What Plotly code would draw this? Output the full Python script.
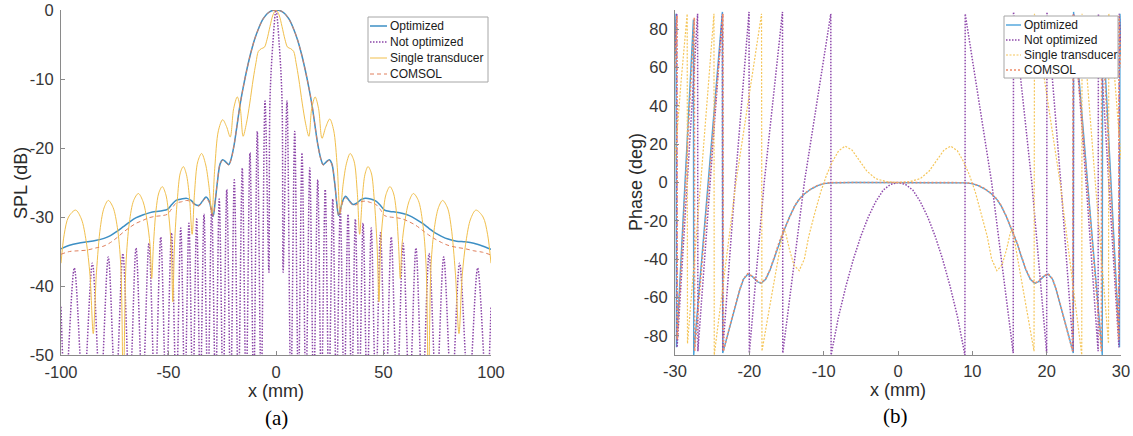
import plotly.graph_objects as go

# ---------------- (a) SPL profile along x ----------------
spl_x = [-100, -96, -92, -88, -84, -80, -77, -74, -71, -68,
         -65, -62, -59, -56, -53, -50.5, -48.5, -46.5, -44, -41.5,
         -39.5, -37.5, -35.8, -34.2, -32.6, -31.2, -30.1, -29.2, -28.3, -27.2,
         -26.0, -24.8, -23.4, -22.0, -20.8, -19.5, -18.2, -16.8, -15.3, -13.6,
         -11.8, -10.0, -8.0, -6.0, -4.0, -2.0,
         0, 2, 4, 6, 8, 10, 11.8, 13.6, 15.3, 16.8,
         18.2, 19.5, 20.8, 22.0, 23.4, 24.8, 26.0, 27.2, 28.2, 29.1,
         30.0, 31.1, 32.4, 34.0, 35.8, 37.5, 39.5, 41.5, 44.0, 46.5,
         48.5, 50.5, 53, 56, 59, 62, 65, 68, 71, 74,
         77, 80, 84, 88, 92, 96, 100]

spl_optimized = [-34.6, -34.1, -33.8, -33.6, -33.4, -33.1, -32.7, -32.1, -31.4, -30.7,
                 -30.1, -29.7, -29.4, -29.2, -29.1, -28.9, -28.2, -27.6, -27.4, -27.3,
                 -27.6, -28.2, -28.3, -27.7, -27.1, -27.6, -28.9, -29.9, -27.8, -24.8,
                 -22.3, -21.7, -22.0, -22.4, -21.5, -19.6, -16.9, -13.9, -11.3, -8.7,
                 -6.3, -4.3, -2.6, -1.3, -0.5, -0.1,
                 0, -0.1, -0.5, -1.3, -2.6, -4.3, -6.3, -8.7, -11.3, -13.9,
                 -16.9, -19.6, -21.5, -22.4, -22.0, -21.7, -22.3, -24.8, -27.8, -29.8,
                 -28.9, -27.6, -27.0, -27.6, -28.2, -28.0, -27.5, -27.3, -27.4, -27.7,
                 -28.3, -29.0, -29.2, -29.3, -29.5, -29.8, -30.3, -30.9, -31.6, -32.3,
                 -32.8, -33.2, -33.5, -33.6, -33.8, -34.2, -34.7]

spl_comsol = [-35.4, -35.0, -34.9, -34.8, -34.5, -34.2, -33.7, -33.0, -32.2, -31.5,
              -30.9, -30.5, -30.1, -29.9, -29.8, -29.6, -28.8, -28.0, -27.8, -27.6,
              -27.8, -28.3, -28.4, -27.8, -27.3, -27.8, -29.0, -29.8, -27.7, -24.8,
              -22.3, -21.8, -22.1, -22.5, -21.6, -19.6, -16.9, -13.9, -11.3, -8.7,
              -6.3, -4.3, -2.6, -1.3, -0.5, -0.1,
              0, -0.1, -0.5, -1.3, -2.6, -4.3, -6.3, -8.7, -11.3, -13.9,
              -16.9, -19.6, -21.6, -22.5, -22.1, -21.8, -22.4, -24.8, -27.7, -29.7,
              -29.0, -27.8, -27.2, -27.7, -28.3, -28.2, -27.8, -27.7, -27.9, -28.2,
              -28.9, -29.8, -30.0, -30.1, -30.3, -30.7, -31.2, -31.9, -32.6, -33.2,
              -33.7, -34.1, -34.4, -34.6, -34.9, -35.1, -35.5]

# lobe peaks and nulls of the unoptimized array (nulls fall below the axis)
spl_x_notopt = [-100, -98.0, -93.8, -89.6, -85.4, -81.7, -78.0, -74.6, -71.2, -68.1,
                -65.1, -62.1, -59.1, -56.3, -53.6, -51.1, -48.6, -46.4, -44.3, -42.4,
                -40.5, -38.7, -36.9, -35.2, -33.5, -31.7, -29.9, -28.1, -26.4, -24.6,
                -22.9, -21.1, -19.4, -17.5, -15.7, -13.9, -12.1, -10.4, -8.7, -6.9,
                -5.1, -3.3, -2.8, -1.5, 0,
                1.5, 2.8, 3.3, 5.1, 6.9, 8.7, 10.4, 12.1, 13.9, 15.7,
                17.5, 19.4, 21.1, 22.9, 24.6, 26.4, 28.1, 29.9, 31.7, 33.5,
                35.2, 36.9, 38.7, 40.5, 42.4, 44.3, 46.4, 48.6, 51.1, 53.6,
                56.3, 59.1, 62.1, 65.1, 68.1, 71.2, 74.6, 78.0, 81.7, 85.4,
                89.6, 93.8, 98.0, 100]
spl_notopt = [-43.0, -56, -37.4, -56, -36.7, -56, -35.8, -56, -35.3, -56,
              -34.5, -56, -33.8, -56, -32.9, -56, -32.3, -56, -31.6, -56,
              -30.9, -56, -30.3, -56, -29.6, -56, -28.7, -56, -27.4, -56,
              -26.0, -56, -24.6, -56, -22.9, -56, -20.7, -56, -17.6, -56,
              -13.2, -38, -13, -5, 0,
              -5, -13, -38, -13.2, -56, -17.6, -56, -20.7, -56, -22.9,
              -56, -24.6, -56, -26.0, -56, -27.4, -56, -28.7, -56, -29.6,
              -56, -30.3, -56, -30.9, -56, -31.6, -56, -32.3, -56, -32.9,
              -56, -33.8, -56, -34.5, -56, -35.3, -56, -35.8, -56, -36.7,
              -56, -37.4, -56, -43.0]

spl_x_single = [-100, -98.5, -96.5, -93.2, -90.5, -88.3, -86.5, -85.0, -83.5, -81.7,
                -80.0, -78.0, -75.8, -73.8, -72.2, -71.0, -69.8, -68.2, -66.2, -64.0,
                -61.8, -60.0, -58.6, -57.8, -57.0, -55.8, -54.5, -52.9, -51.2, -49.8,
                -48.7, -48.0, -47.2, -45.9, -44.5, -43.1, -41.7, -40.3, -39.0, -37.9,
                -36.4, -34.6, -32.8, -31.2, -29.8, -28.5, -26.8, -24.8, -23.0, -21.3,
                -19.7, -18.0, -16.6, -15.3, -13.8, -12.2, -10.6, -9.3, -8.2, -6.8,
                -5.4, -4.2, -2.8, -1.4, 0,
                1.4, 2.8, 4.2, 5.4, 6.8, 8.2, 9.3, 10.6, 12.2, 13.8,
                15.3, 16.6, 18.2, 19.8, 21.4, 23.1, 25.0, 26.8, 28.5, 29.8,
                31.2, 32.8, 34.5, 36.3, 37.8, 38.9, 40.2, 41.4, 42.8, 44.3,
                45.7, 47.0, 47.9, 48.6, 49.7, 51.1, 53.0, 54.6, 55.9, 57.0,
                57.8, 58.6, 60.0, 61.8, 63.9, 66.2, 68.2, 69.8, 70.9, 72.1,
                73.7, 75.6, 77.5, 79.8, 81.5, 83.4, 85.1, 86.6, 88.4, 90.5,
                93.0, 96.3, 98.4, 100]
spl_single = [-36.7, -32.5, -30.0, -29.0, -30.3, -33.5, -38.5, -46.9, -38.0, -31.5,
              -28.7, -27.6, -28.6, -31.5, -37.0, -56.0, -37.0, -30.8, -27.6, -26.6,
              -27.8, -30.5, -34.0, -38.9, -34.0, -29.0, -26.5, -25.6, -26.8, -30.0,
              -34.5, -42.3, -34.0, -27.5, -23.6, -22.7, -23.8, -27.0, -32.5, -26.5,
              -22.0, -20.8, -22.3, -25.5, -29.5, -23.0, -17.5, -15.9, -16.9, -18.4,
              -14.3, -12.6, -14.3, -18.3, -16.5, -13.5, -10.0, -7.6, -6.0, -5.6,
              -5.4, -4.3, -2.4, -0.7, 0,
              -0.7, -2.4, -4.3, -5.4, -5.6, -6.0, -7.6, -10.0, -13.5, -16.5,
              -18.3, -14.3, -12.6, -14.3, -18.6, -17.0, -15.8, -17.4, -22.8, -29.5,
              -25.3, -22.2, -20.8, -21.9, -26.4, -32.5, -27.0, -23.8, -22.7, -23.6,
              -27.5, -34.0, -42.3, -34.5, -30.0, -26.8, -25.6, -26.5, -29.0, -34.0,
              -38.9, -34.0, -30.5, -27.8, -26.6, -27.6, -30.8, -37.0, -56.0, -37.0,
              -31.5, -28.6, -27.6, -28.7, -31.5, -38.0, -46.9, -38.5, -33.5, -30.3,
              -29.0, -30.0, -32.5, -36.7]

# ---------------- (b) wrapped phase along x ----------------
ph_x_optimized = [-30, -29.86, -29.8, -28.65, -27.52, -27.48, -25.5, -23.62, -23.58, -22.9,
                  -22.2, -21.3, -20.8, -20.2, -19.6, -18.9, -18.4, -17.8, -17.2, -16.6,
                  -16.0, -15.3, -14.6, -13.9, -13.3, -12.6, -11.7, -10.8, -10.0, -9.0,
                  -6.0, 0, 6.0,
                  9.0, 10.0, 10.8, 11.7, 12.6, 13.3, 13.9, 14.6, 15.3, 16.0,
                  16.6, 17.2, 17.8, 18.4, 18.9, 19.6, 20.2, 20.8, 21.3, 22.2,
                  22.9, 23.58, 23.62, 25.5, 27.48, 27.52, 28.65, 29.8, 29.86, 30]
ph_optimized = [66, 88, -86, 0, 85, -90, 0, 89, -89, -79,
                -68.5, -56.2, -50.5, -47.8, -49.0, -51.8, -52.6, -50.5, -45.5, -38.7,
                -31.5, -24.6, -18.0, -12.3, -8.8, -6.0, -3.4, -1.6, -0.6, -0.2,
                0, 0, 0,
                -0.2, -0.6, -1.6, -3.4, -6.0, -8.8, -12.3, -18.0, -24.6, -31.5,
                -38.7, -45.5, -50.5, -52.6, -51.8, -49.0, -47.8, -50.5, -56.2, -68.5,
                -79, -89, 89, 0, -90, 85, 0, -86, 88, 66]

ph_x_comsol = [-30, -29.74, -29.7, -28.55, -27.4, -27.36, -25.45, -23.55, -23.5, -22.85,
               -22.15, -21.3, -20.8, -20.2, -19.6, -18.9, -18.4, -17.8, -17.2, -16.6,
               -16.0, -15.3, -14.6, -13.9, -13.3, -12.6, -11.7, -10.8, -10.0, -9.0,
               -6.0, 0, 6.0,
               9.0, 10.0, 10.8, 11.7, 12.6, 13.3, 13.9, 14.6, 15.3, 16.0,
               16.6, 17.2, 17.8, 18.4, 18.9, 19.6, 20.2, 20.8, 21.3, 22.15,
               22.85, 23.5, 23.55, 25.45, 27.36, 27.4, 28.55, 29.7, 29.74, 30]
ph_comsol = [60, 87, -82, 0, 86, -88, 0, 88, -88, -79,
             -68, -56, -50.3, -47.6, -48.8, -51.6, -52.4, -50.3, -45.3, -38.5,
             -31.3, -24.4, -17.9, -12.2, -8.7, -5.9, -3.3, -1.5, -0.5, -0.1,
             0, 0, 0,
             -0.1, -0.5, -1.5, -3.3, -5.9, -8.7, -12.2, -17.9, -24.4, -31.3,
             -38.5, -45.3, -50.3, -52.4, -51.6, -48.8, -47.6, -50.3, -56, -68,
             -79, -88, 88, 0, -88, 86, 0, -82, 87, 60]

ph_x_notopt = [-30, -29.76, -29.72, -28.4, -26.96, -26.92, -25.3, -23.62, -23.58, -21.9,
               -20.04, -20.0, -18.0, -15.54, -15.5, -12.6, -9.04,
               -9, -8, -7, -6, -5, -4, -3, -2, -1, 0, 1, 2, 3, 4, 5, 6, 7, 8, 9,
               9.04, 12.6, 15.5, 15.54, 18.0, 20.0, 20.04, 21.9, 23.58, 23.62,
               25.3, 26.92, 26.96, 28.4, 29.72, 29.76, 30]
ph_notopt = [70, 88, -86, 0, 88, -88, 0, 88, -88, 0,
             89, -89, 0, 89, -89, 0, 88,
             -90, -70, -54, -40, -28, -18, -10, -4, -1, 0, -1, -4, -10, -18, -28, -40, -54, -70, -90,
             88, 0, -89, 89, 0, -89, 89, 0, -88, 88,
             0, -88, 88, 0, -86, 88, 70]

ph_x_single = [-30, -29.2, -28.36, -28.32, -26.5, -24.76, -24.72, -21.8, -18.36, -18.3,
               -17.5, -16.8, -16.2, -15.7, -15.4, -15.1, -14.6, -14.0, -13.3, -12.6,
               -12.0, -11.2, -10.4, -9.6, -8.8, -8.0, -7.1, -6.2, -5.2, -4.2,
               -3.0, -1.5, 0,
               1.5, 3.0, 4.2, 5.2, 6.2, 7.1, 8.0, 8.8, 9.6, 10.4,
               11.2, 12.0, 12.6, 13.3, 14.0, 14.6, 15.1, 15.4, 15.7, 16.2,
               16.8, 17.5, 18.3, 18.36, 21.8, 24.72, 24.76, 26.5, 28.32, 28.36,
               29.2, 30]
ph_single = [12, 52, 88, -84, 2, 88, -90, 0, 88, -88,
             -70, -54, -42, -31, -24, -26.5, -35, -43, -46, -40,
             -28, -16, -5, 4, 11, 16.5, 19, 17, 11.5, 6,
             2, 0.4, 0,
             0.4, 2, 6, 11.5, 17, 19, 16.5, 11, 4, -5,
             -16, -28, -40, -46, -43, -35, -26.5, -24, -31, -42,
             -54, -70, -88, 88, 0, -90, 88, 2, -84, 88,
             52, 12]

series_names = ["Optimized", "Not optimized", "Single transducer", "COMSOL"]
spl_xticks = [-100, -50, 0, 50, 100]
spl_xticklabels = ["-100", "-50", "0", "50", "100"]
spl_yticks = [-50, -40, -30, -20, -10, 0]
spl_yticklabels = ["-50", "-40", "-30", "-20", "-10", "0"]
phase_xticks = [-30, -20, -10, 0, 10, 20, 30]
phase_xticklabels = ["-30", "-20", "-10", "0", "10", "20", "30"]
phase_yticks = [-80, -60, -40, -20, 0, 20, 40, 60, 80]
phase_yticklabels = ["-80", "-60", "-40", "-20", "0", "20", "40", "60", "80"]

W, H = 1133, 436

# line styles: (a) panel, (b) panel
style_a = [
    dict(color="#3d8fc4", width=1.5, dash="solid"),
    dict(color="#8b45a8", width=1.5, dash="1.5px,1.5px"),
    dict(color="#f1bf4c", width=1.0, dash="solid"),
    dict(color="#e07f5c", width=1.0, dash="4px,3px"),
]
style_b = [
    dict(color="#4aa3db", width=1.4, dash="solid"),
    dict(color="#8e48ab", width=1.5, dash="1.5px,1.5px"),
    dict(color="#f5c65a", width=1.2, dash="2px,1.5px"),
    dict(color="#f08c68", width=1.6, dash="2px,2px"),
]

fig = go.Figure()

panel_a = [(spl_x, spl_optimized), (spl_x_notopt, spl_notopt),
           (spl_x_single, spl_single), (spl_x, spl_comsol)]
for name, (xs, ys), st in zip(series_names, panel_a, style_a):
    fig.add_trace(go.Scatter(
        x=xs, y=ys, mode="lines", name=name, showlegend=False,
        line=dict(color=st["color"], width=st["width"], dash=st["dash"],
                  shape="spline", smoothing=0.9),
        xaxis="x", yaxis="y"))

panel_b = [(ph_x_optimized, ph_optimized), (ph_x_notopt, ph_notopt),
           (ph_x_single, ph_single), (ph_x_comsol, ph_comsol)]
for name, (xs, ys), st in zip(series_names, panel_b, style_b):
    fig.add_trace(go.Scatter(
        x=xs, y=ys, mode="lines", name=name, showlegend=False,
        line=dict(color=st["color"], width=st["width"], dash=st["dash"]),
        xaxis="x2", yaxis="y2"))

font_family = "Liberation Sans, Arial, sans-serif"
tick_font = dict(family=font_family, size=16.5, color="#363636")
title_font = dict(family=font_family, size=18, color="#2a2a2a")
axis_common = dict(showgrid=False, zeroline=False, showline=True, linecolor="#8a8a8a",
                   linewidth=1, ticks="inside", ticklen=4, tickcolor="#8a8a8a",
                   tickfont=tick_font, mirror=False, automargin=False)

y_dom = [1 - 355 / H, 1 - 10 / H]
fig.update_layout(
    width=W, height=H, margin=dict(l=0, r=0, t=0, b=0),
    paper_bgcolor="white", plot_bgcolor="white",
    xaxis=dict(domain=[61 / W, 491 / W], range=[-100, 100], tickvals=spl_xticks,
               ticktext=spl_xticklabels, anchor="y", ticklabelstandoff=2,
               title=dict(text="x (mm)", font=title_font, standoff=3), **axis_common),
    yaxis=dict(domain=y_dom, range=[-50, 0], tickvals=spl_yticks, ticktext=spl_yticklabels,
               anchor="x", ticklabelstandoff=3, **axis_common),
    xaxis2=dict(domain=[675 / W, 1121 / W], range=[-30, 30], tickvals=phase_xticks,
                ticktext=phase_xticklabels, anchor="y2", ticklabelstandoff=1,
                title=dict(text="x (mm)", font=title_font, standoff=0), **axis_common),
    yaxis2=dict(domain=y_dom, range=[-90, 90], tickvals=phase_yticks,
                ticktext=phase_yticklabels, anchor="x2", ticklabelstandoff=3,
                **axis_common),
)


def px(x):
    return x / W


def py(y):
    return 1 - y / H


legend_font = dict(family=font_family, size=12, color="#1a1a1a")
shapes = []
annotations = []


def add_legend(box, rows, x0, x1, xtext, styles):
    shapes.append(dict(type="rect", xref="paper", yref="paper",
                       x0=px(box[0]), x1=px(box[2]), y0=py(box[3]), y1=py(box[1]),
                       line=dict(color="#a6a6a6", width=1), fillcolor="white",
                       layer="above"))
    for name, yrow, st in zip(series_names, rows, styles):
        shapes.append(dict(type="line", xref="paper", yref="paper",
                           x0=px(x0), x1=px(x1), y0=py(yrow), y1=py(yrow),
                           line=dict(color=st["color"], width=st["width"], dash=st["dash"]),
                           layer="above"))
        annotations.append(dict(text=name, xref="paper", yref="paper",
                                x=px(xtext), y=py(yrow), xanchor="left", yanchor="middle",
                                showarrow=False, font=legend_font))


add_legend((368, 17, 488, 82), [26, 42, 58, 74], 370, 387, 388, style_a)
add_legend((1004, 16, 1118, 78), [25, 40, 55, 70], 1006, 1021, 1022, style_b)

# vertical axis titles
annotations.append(dict(text="SPL (dB)", xref="paper", yref="paper", x=px(21), y=py(183),
                        xanchor="center", yanchor="middle", textangle=-90, showarrow=False,
                        font=title_font))
annotations.append(dict(text="Phase (deg)", xref="paper", yref="paper", x=px(636), y=py(182),
                        xanchor="center", yanchor="middle", textangle=-90, showarrow=False,
                        font=title_font))

caption_font = dict(family="Liberation Serif, Times New Roman, serif", size=21, color="black")
annotations.append(dict(text="(a)", xref="paper", yref="paper", x=px(276), y=py(418),
                        xanchor="center", yanchor="middle", showarrow=False, font=caption_font))
annotations.append(dict(text="(b)", xref="paper", yref="paper", x=px(895), y=py(416),
                        xanchor="center", yanchor="middle", showarrow=False, font=caption_font))

fig.update_layout(shapes=shapes, annotations=annotations)
fig.write_html("out.html")
